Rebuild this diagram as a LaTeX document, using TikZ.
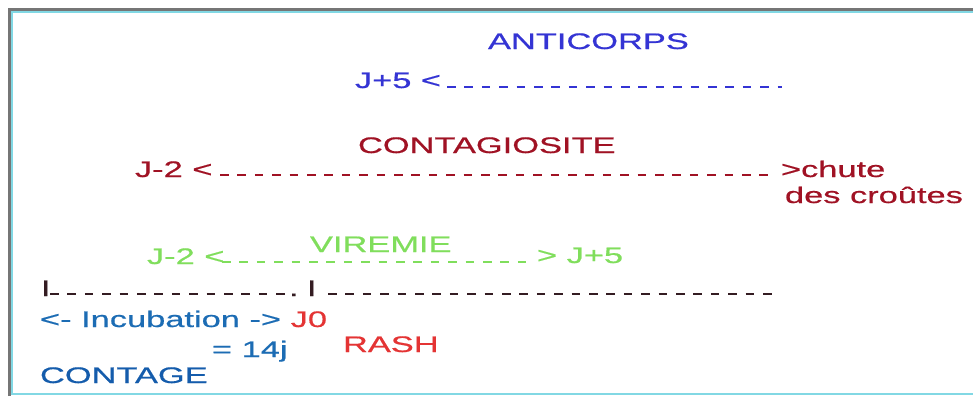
\documentclass[tikz,border=0pt]{standalone}
\usepackage{fontspec}
\setmainfont[FakeStretch=1.53,FakeBold=0.6]{Liberation Sans}
\definecolor{abblue}{RGB}{52,52,212}
\definecolor{cred}{RGB}{160,18,36}
\definecolor{vgreen}{RGB}{128,222,92}
\definecolor{incblue}{RGB}{28,108,180}
\definecolor{cgblue}{RGB}{20,92,172}
\definecolor{rred}{RGB}{228,52,52}
\definecolor{tdark}{RGB}{52,28,34}
\definecolor{framegray}{RGB}{118,118,118}
\definecolor{framecyan}{RGB}{130,216,228}
\tikzset{
  lbl/.style={anchor=base west, inner sep=0pt, outer sep=0pt, font=\fontsize{22.5bp}{27bp}\selectfont},
  dashline/.style={line width=2.5bp, dash pattern=on 8.6bp off 8.8bp},
}
\begin{document}
\begin{tikzpicture}[x=1bp,y=-1bp]
\useasboundingbox (0,0) rectangle (973,396);
\fill[white] (0,0) rectangle (973,396);
% frame
\draw[framegray, line width=3bp] (9,396) -- (9,9) -- (973,9);
\draw[framecyan, line width=1.5bp] (973,11.8) -- (11.8,11.8) -- (11.8,394) -- (973,394);

% ANTICORPS
\node[lbl, text=abblue] (anti) at (488,49) {ANTICORPS};
\node[lbl, text=abblue] (ajp) at (355,88) {J+5 <};
\coordinate (aS) at (447,87);
\coordinate (aE) at (782,87);
\draw[dashline, abblue] (aS) -- (aE);

% CONTAGIOSITE
\node[lbl, text=cred] (conta) at (358,153) {CONTAGIOSITE};
\node[lbl, text=cred] (cjm) at (135,177) {J-2 <};
\node[lbl, text=cred] (chute) at (781,177) {>chute};
\node[lbl, text=cred] (croutes) at (785,203) {des croûtes};
\coordinate (cS) at (220,175);
\coordinate (cE) at (773,175);
\draw[dashline, cred] (cS) -- (cE);

% VIREMIE
\node[lbl, text=vgreen] (vir) at (310,252) {VIREMIE};
\node[lbl, text=vgreen] (vjm) at (147,264) {J-2 <};
\node[lbl, text=vgreen] (vjp) at (537,263) {> J+5};
\coordinate (vS) at (222,262);
\coordinate (vE) at (526,262);
\draw[dashline, vgreen] (vS) -- (vE);

% timeline
\node[lbl, text=tdark] (i1) at (41,296) {I};
\node[lbl, text=tdark] (i2) at (307,296) {I};
\node[lbl, text=tdark] (dot) at (289,296) {.};
\coordinate (t1S) at (50,294);
\coordinate (t1E) at (285,294);
\draw[dashline, tdark] (t1S) -- (t1E);
\coordinate (t2S) at (328,294);
\coordinate (t2E) at (775,294);
\draw[dashline, tdark] (t2S) -- (t2E);

% bottom labels
\node[lbl, text=incblue] (inc) at (40,327) {<- Incubation -> \textcolor{rred}{J0}};
\node[lbl, text=incblue] (dur) at (212,357) {= 14j};
\node[lbl, text=rred] (rash) at (343,352) {RASH};
\node[lbl, text=cgblue] (contage) at (40,383) {CONTAGE};
\end{tikzpicture}
\end{document}
